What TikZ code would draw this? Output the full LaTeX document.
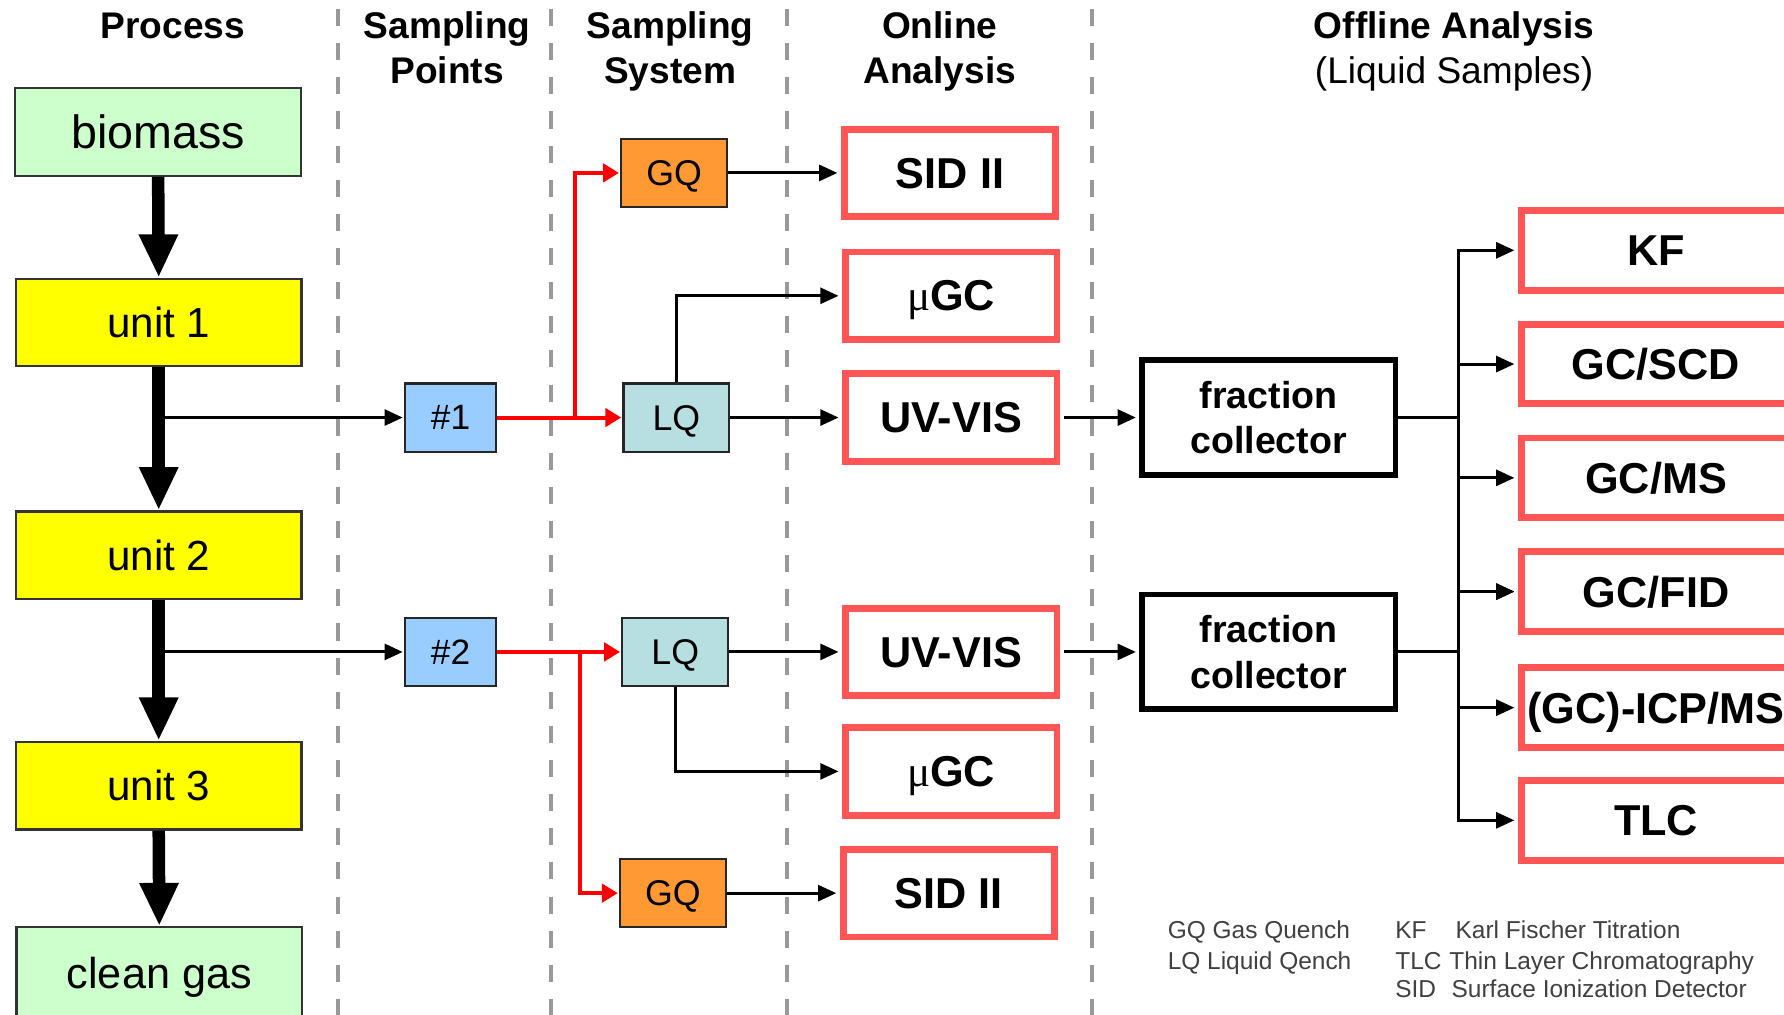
\documentclass[tikz,border=0pt]{standalone}
\usepackage{fontspec}
\setmainfont{Liberation Sans}
\newfontfamily\greekfont{Liberation Serif}
\usetikzlibrary{arrows.meta}

\definecolor{procgreen}{HTML}{CCFFCC}
\definecolor{procyellow}{HTML}{FFFF00}
\definecolor{ptblue}{HTML}{99CCFF}
\definecolor{gqorange}{HTML}{FF9933}
\definecolor{lqteal}{HTML}{B7DFE1}
\definecolor{boxred}{HTML}{FF5555}
\definecolor{lanegray}{HTML}{999999}
\definecolor{legendgray}{HTML}{404040}
\definecolor{flowred}{HTML}{FF0000}

\begin{document}
\begin{tikzpicture}[x=0.5pt,y=-0.5pt,
  procbox/.style={draw=black!80, line width=1pt, minimum width=125.5pt,
    minimum height=38.5pt, inner sep=0pt, text depth=0pt},
  ptbox/.style={draw=black!85, fill=ptblue, line width=1pt, minimum width=40pt,
    minimum height=30pt, inner sep=0pt, text depth=0pt,
    font=\fontsize{15.5}{18}\selectfont},
  quench/.style={draw=black!85, line width=1pt, minimum width=46.5pt,
    minimum height=30pt, inner sep=0pt, text depth=0pt,
    font=\fontsize{15.7}{18}\selectfont},
  onbox/.style={draw=boxred, line width=3pt, minimum width=93pt,
    minimum height=38.5pt, inner sep=0pt, text depth=0pt,
    font=\fontsize{19}{22}\selectfont\bfseries},
  offbox/.style={draw=boxred, line width=3pt, minimum width=118.5pt,
    minimum height=35pt, inner sep=0pt, text depth=0pt,
    font=\fontsize{19}{22}\selectfont\bfseries},
  fcbox/.style={draw=black, line width=2.6pt, minimum width=111.5pt,
    minimum height=50.5pt, inner sep=0pt, align=center,
    font=\fontsize{16.5}{20}\selectfont\bfseries},
  header/.style={anchor=base, inner sep=0pt, font=\fontsize{16.3}{19.5}\selectfont\bfseries},
  lane/.style={draw=lanegray, line width=1.75pt, dash pattern=on 7.5pt off 7.5pt},
  flow/.style={line width=5.5pt, -{Triangle[length=19pt,width=16pt]}},
  link/.style={line width=1.3pt, -{Triangle[length=8pt,width=7pt]}},
  redlink/.style={draw=flowred, line width=1.75pt, -{Triangle[length=7pt,width=8pt]}},
  legend/.style={anchor=base west, inner sep=0pt, text=legendgray,
    font=\fontsize{10.75}{13.5}\selectfont},
]
\clip (0,0) rectangle (1568,892);
\fill[white] (0,0) rectangle (1568,892);

% column separators
\foreach \lx in {297,484,692,960}
  \draw[lane] (\lx,8) -- (\lx,892);

% column headings
\node[header] (hproc) at (152,34) {Process};
\node[header] (hsp1) at (393,34) {Sampling};
\node[header] (hsp2) at (393,73) {Points};
\node[header] (hss1) at (589,34) {Sampling};
\node[header] (hss2) at (589,73) {System};
\node[header] (hon1) at (826,34) {Online};
\node[header] (hon2) at (826,73) {Analysis};
\node[header] (hoff1) at (1278,34) {Offline Analysis};
\node[header, font=\fontsize{16.3}{19.5}\selectfont] (hoff2) at (1278,73) {(Liquid Samples)};

% process chain
\node[procbox, fill=procgreen, font=\fontsize{20.5}{24}\selectfont] (biomass) at (139,116) {biomass};
\node[procbox, fill=procyellow, font=\fontsize{18.5}{22}\selectfont] (unit1) at (139.5,283.5) {unit 1};
\node[procbox, fill=procyellow, font=\fontsize{18.5}{22}\selectfont] (unit2) at (139.5,488) {unit 2};
\node[procbox, fill=procyellow, font=\fontsize{18.5}{22}\selectfont] (unit3) at (139.5,690.5) {unit 3};
\node[procbox, fill=procgreen, minimum height=40pt, font=\fontsize{19}{22}\selectfont] (clean) at (140,855) {clean gas};

\draw[flow] (biomass.south) -- (unit1.north);
\draw[flow] (unit1.south) -- (unit2.north);
\draw[flow] (unit2.south) -- (unit3.north);
\draw[flow] (unit3.south) -- (clean.north);

% sampling points
\node[ptbox] (p1) at (396,367) {\#1};
\node[ptbox] (p2) at (396,573) {\#2};
\coordinate (tap1) at (140,367);
\coordinate (tap2) at (140,573);
\draw[link, shorten >=0.5pt] (tap1) -- (p1.west);
\draw[link, shorten >=0.5pt] (tap2) -- (p2.west);

% sampling system
\node[quench, fill=gqorange] (gq1) at (592.5,152) {GQ};
\node[quench, fill=lqteal] (lq1) at (594.5,367) {LQ};
\node[quench, fill=lqteal] (lq2) at (593.5,573) {LQ};
\node[quench, fill=gqorange] (gq2) at (591.5,785) {GQ};

\coordinate (j1) at (505,367);
\coordinate (j2) at (510,573);
\draw[redlink, shorten >=0.5pt] (p1.east) -- (lq1.west);
\draw[redlink, shorten >=0.5pt] (j1) |- (gq1.west);
\draw[redlink, shorten >=0.5pt] (p2.east) -- (lq2.west);
\draw[redlink, shorten >=0.5pt] (j2) |- (gq2.west);

% online analysis
\node[onbox] (sid1) at (835,152) {SID II};
\node[onbox] (mgc1) at (836,260) {{\greekfont\mdseries μ}GC};
\node[onbox] (uv1) at (836,367) {UV-VIS};
\node[onbox] (uv2) at (836,573) {UV-VIS};
\node[onbox] (mgc2) at (836,678) {{\greekfont\mdseries μ}GC};
\node[onbox] (sid2) at (834,785) {SID II};

\draw[link, shorten >=1.5pt] (gq1.east) -- (sid1.west);
\draw[link, shorten >=1.5pt] (lq1.north) |- (mgc1.west);
\draw[link, shorten >=1.5pt] (lq1.east) -- (uv1.west);
\draw[link, shorten >=1.5pt] (lq2.east) -- (uv2.west);
\draw[link, shorten >=1.5pt] (lq2.south) |- (mgc2.west);
\draw[link, shorten >=1.5pt] (gq2.east) -- (sid2.west);

% fraction collectors
\node[fcbox] (fc1) at (1115,367) {fraction\\collector};
\node[fcbox] (fc2) at (1115,573) {fraction\\collector};
\draw[link, shorten <=1.5pt, shorten >=1.3pt] (uv1.east) -- (fc1.west);
\draw[link, shorten <=1.5pt, shorten >=1.3pt] (uv2.east) -- (fc2.west);

% offline analysis
\node[offbox] (kf) at (1455.5,220) {KF};
\node[offbox] (scd) at (1455.5,320) {GC/SCD};
\node[offbox] (ms) at (1455.5,420) {GC/MS};
\node[offbox] (fid) at (1455.5,520) {GC/FID};
\node[offbox] (icp) at (1455.5,622) {(GC)-ICP/MS};
\node[offbox] (tlc) at (1455.5,721) {TLC};

\coordinate (bus) at (1282,0);
\foreach \t in {kf,scd,ms,fid}
  \draw[link, shorten >=1.5pt] (fc1.east) -| (bus |- \t.west) -- (\t.west);
\foreach \t in {fid,icp,tlc}
  \draw[link, shorten >=1.5pt] (fc2.east) -| (bus |- \t.west) -- (\t.west);

% legend
\node[legend] (lg1) at (1026,825) {GQ Gas Quench};
\node[legend] (lg2) at (1026,852) {LQ Liquid Qench};
\node[legend] (lg3) at (1226,825) {KF};
\node[legend] (lg3t) at (1279,825) {Karl Fischer Titration};
\node[legend] (lg4) at (1226,852) {TLC};
\node[legend] (lg4t) at (1273.5,852) {Thin Layer Chromatography};
\node[legend] (lg5) at (1226,877) {SID};
\node[legend] (lg5t) at (1275.5,877) {Surface Ionization Detector};
\end{tikzpicture}
\end{document}
